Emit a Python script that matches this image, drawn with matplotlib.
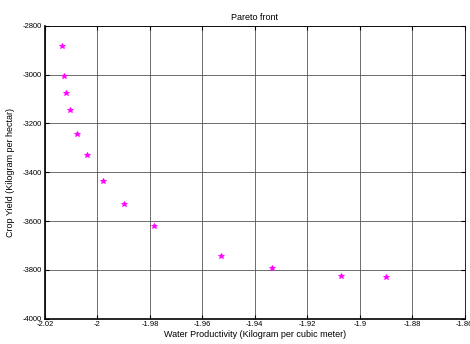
import matplotlib
matplotlib.use("Agg")
import matplotlib.pyplot as plt

# pareto front values
water_prod = [-2.0134, -2.0129, -2.0119, -2.0106, -2.0077, -2.0040, -1.9980,
              -1.9898, -1.9784, -1.9530, -1.9335, -1.9071, -1.8900]
crop_yield = [-2882, -3004, -3076, -3145, -3244, -3331, -3434,
              -3529, -3622, -3744, -3791, -3823, -3829]

xticks = [-2.02, -2.0, -1.98, -1.96, -1.94, -1.92, -1.9, -1.88, -1.86]
xticklabels = ["-2.02", "-2", "-1.98", "-1.96", "-1.94", "-1.92", "-1.9", "-1.88", "-1.86"]
yticks = [-4000, -3800, -3600, -3400, -3200, -3000, -2800]

plt.rcParams['font.family'] = ['Liberation Sans', 'DejaVu Sans']
plt.rcParams['axes.unicode_minus'] = False

fig = plt.figure(figsize=(4.7, 3.44), dpi=100)
ax = fig.add_axes([0.0957, 0.0735, 0.893, 0.8515])
ax.plot(water_prod, crop_yield, linestyle='none', marker='*', color='magenta',
        markersize=3.8, markeredgewidth=0.6)
ax.set_xlim(-2.02, -1.86)
ax.set_ylim(-4000, -2800)
ax.set_xticks(xticks)
ax.set_xticklabels(xticklabels)
ax.set_yticks(yticks)
ax.grid(True, color='#555555', linewidth=0.6, linestyle='-')
ax.tick_params(direction='in', length=3, labelsize=5.5, top=True, right=True,
               width=0.8, pad=2)
for s in ['left', 'bottom']:
    ax.spines[s].set_linewidth(1.2)
for s in ['top', 'right']:
    ax.spines[s].set_linewidth(0.6)
ax.set_title("Pareto front", fontsize=6.5, pad=4)
ax.set_xlabel("Water Productivity (Kilogram per cubic meter)", fontsize=6.5, labelpad=1)
ax.set_ylabel("Crop Yield (Kilogram per hectar)", fontsize=6.5, labelpad=6)
fig.savefig("out.png", dpi=100)
